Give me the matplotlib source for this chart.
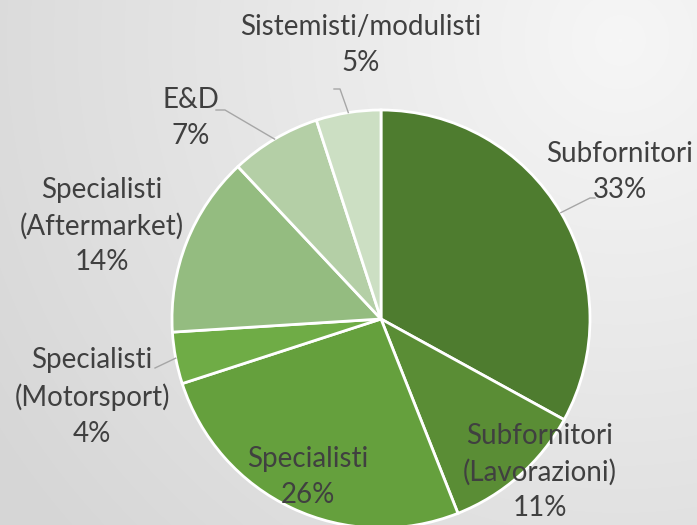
import numpy as np
import matplotlib.pyplot as plt

# data
labels = ["Subfornitori", "Subfornitori\n(Lavorazioni)", "Specialisti",
          "Specialisti\n(Motorsport)", "Specialisti\n(Aftermarket)", "E&D",
          "Sistemisti/modulisti"]
shares = [33, 11, 26, 4, 14, 7, 5]
colors = ["#4E7C2F", "#5A8D35", "#65A03D", "#6FAC46", "#94BC80", "#B4CFA6", "#CCDFC3"]

W, H = 697, 525
# label centres in pixel coords (x, y from top)
label_pos = [(620, 172), (540, 472), (308, 477), (92, 397), (102, 226), (191, 118), (361, 45)]
# leader elbows (pixel coords), None = no leader
leaders = [[(590, 198), (595, 198)], None, None, [(155, 368)], None,
           [(225, 110), (216, 110)], [(340, 89), (334, 89)]]

cx, cy, r = 381, 319, 209


def P(x, y):
    return x, H - y


fig = plt.figure(figsize=(W / 100, H / 100), dpi=100)
ax = fig.add_axes([0, 0, 1, 1])

# background radial gradient
yy, xx = np.mgrid[0:H, 0:W]
d = np.sqrt((xx - 620) ** 2 + (yy - 40) ** 2) / 750
d = np.clip(d, 0, 1)
c0, c1 = 0.965, 0.84
bg = c0 + (c1 - c0) * d
bg = np.dstack([bg, bg, bg])
ax.imshow(bg, extent=[0, W, 0, H], origin="upper", zorder=0, interpolation="bilinear")

wedges, _ = ax.pie(shares, colors=colors, startangle=90, counterclock=False,
                   center=P(cx, cy), radius=r,
                   wedgeprops=dict(edgecolor="white", linewidth=2))
for w in wedges:
    w.set_zorder(2)

for i, (lab, val) in enumerate(zip(labels, shares)):
    x, y = label_pos[i]
    ax.text(*P(x, y), f"{lab}\n{val}%", ha="center", va="center", fontsize=20,
            family="Lato", color="#404040", linespacing=1.45, zorder=4)
    if leaders[i] is not None:
        w = wedges[i]
        ang = np.deg2rad((w.theta1 + w.theta2) / 2)
        ex, ey = cx + r * np.cos(ang), cy - r * np.sin(ang)
        pts = [(ex, ey)] + leaders[i]
        ax.plot([p[0] for p in pts], [H - p[1] for p in pts], color="#A6A6A6",
                lw=1, zorder=3)

ax.set_xlim(0, W)
ax.set_ylim(0, H)
ax.set_aspect("equal")
ax.axis("off")
fig.savefig("out.png", dpi=100)
